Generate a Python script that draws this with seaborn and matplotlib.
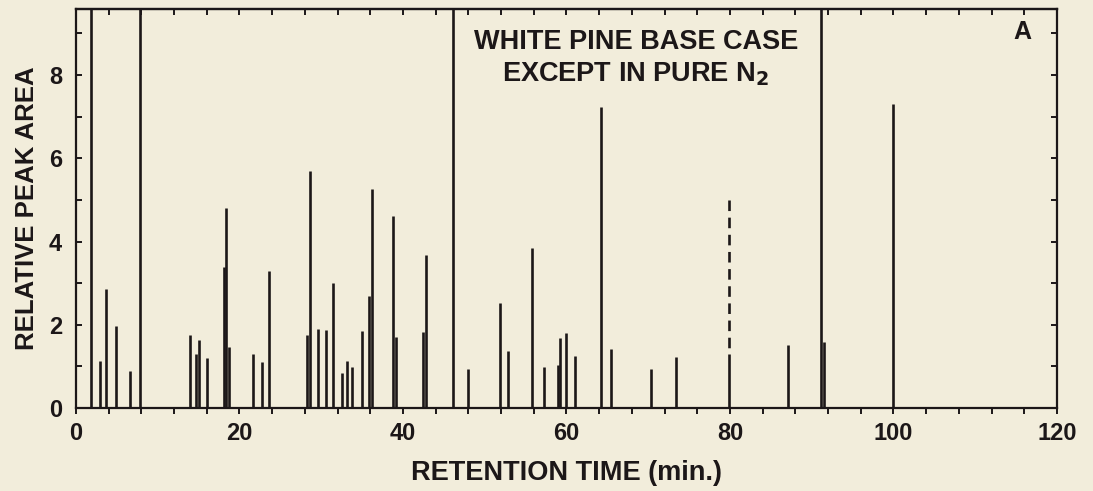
import numpy as np
import matplotlib
matplotlib.use("Agg")
import matplotlib.pyplot as plt
from matplotlib.ticker import MultipleLocator
import seaborn as sns

# Peak data (retention time in min, relative peak area)
peak_time = [3.0, 3.7, 4.9, 6.6, 14.0, 14.7, 15.0, 16.0, 18.1, 18.4, 18.7,
             21.6, 22.8, 23.6, 28.3, 28.6, 29.6, 30.6, 31.4, 32.6, 33.2, 33.8,
             35.0, 35.9, 36.2, 38.8, 39.1, 42.4, 42.8, 48.0, 51.9, 52.8, 55.8,
             57.3, 59.0, 59.2, 60.0, 61.0, 64.2, 65.4, 70.4, 73.4, 79.9, 87.1,
             91.5, 99.9]
peak_area = [1.14, 2.87, 1.98, 0.88, 1.75, 1.30, 1.63, 1.19, 3.40, 4.80, 1.47,
             1.31, 1.10, 3.29, 1.75, 5.70, 1.89, 1.88, 3.01, 0.83, 1.14, 0.98,
             1.84, 2.68, 5.26, 4.62, 1.70, 1.83, 3.68, 0.93, 2.53, 1.38, 3.85,
             0.98, 1.03, 1.69, 1.80, 1.26, 7.24, 1.41, 0.93, 1.22, 1.31, 1.51,
             1.59, 7.31]

# peaks that run off the top of the scale
offscale_time = [1.8, 7.8, 46.1, 91.1]

# dashed continuation of the peak near 80 min (drawn top-down)
dashed_time = [79.9]
dashed_top = [5.0]
dashed_bottom = [1.31]

x_ticks = [0, 20, 40, 60, 80, 100, 120]
y_ticks = [0, 2, 4, 6, 8]

bg = "#f2eddb"
ink = "#1c1718"

sns.set_theme(style="ticks")
plt.rcParams["font.family"] = ["Liberation Sans", "DejaVu Sans"]
plt.rcParams["font.weight"] = "bold"
plt.rcParams["mathtext.default"] = "bf"

fig = plt.figure(figsize=(10.93, 4.91), dpi=100, facecolor=bg)
ax = fig.add_axes([0.0695, 0.169, 0.8975, 0.812])
ax.set_facecolor(bg)

ax.set_xlim(0, 120)
ax.set_ylim(0, 9.58)

ax.vlines(peak_time, 0, peak_area, color=ink, linewidth=1.9)
ax.vlines(offscale_time, 0, ax.get_ylim()[1], color=ink, linewidth=1.9)
ax.vlines(dashed_time, dashed_top, dashed_bottom, color=ink, linewidth=1.9,
          linestyles=(0, (4, 2.5)))

ax.set_xticks(x_ticks)
ax.set_yticks(y_ticks)
ax.xaxis.set_minor_locator(MultipleLocator(4))
ax.yaxis.set_minor_locator(MultipleLocator(1))

for side in ["left", "right", "top", "bottom"]:
    ax.spines[side].set_linewidth(1.6)
    ax.spines[side].set_color(ink)

ax.tick_params(axis="both", which="both", color=ink, width=1.4, length=4,
               labelsize=17, labelcolor=ink)
ax.tick_params(axis="x", which="both", direction="out", top=False, pad=6)
ax.tick_params(axis="y", which="both", direction="in", right=True, pad=10)

ax.set_xlabel("RETENTION TIME (min.)", fontsize=19.5, fontweight="bold",
              color=ink, labelpad=11)
ax.set_ylabel("RELATIVE PEAK AREA", fontsize=18.5, fontweight="bold",
              color=ink, labelpad=7)

ax.text(68.5, 8.8, "WHITE PINE BASE CASE", ha="center", va="center",
        fontsize=19.5, fontweight="bold", color=ink)
ax.text(68.5, 8.02, "EXCEPT IN PURE N$_2$", ha="center", va="center",
        fontsize=19.5, fontweight="bold", color=ink)
ax.text(115.8, 9.04, "A", ha="center", va="center", fontsize=18,
        fontweight="bold", color=ink)

# top ticks point inward
ax2 = ax.secondary_xaxis("top")
ax2.xaxis.set_major_locator(MultipleLocator(20))
ax2.xaxis.set_minor_locator(MultipleLocator(4))
ax2.tick_params(axis="x", which="both", direction="in", length=4, width=1.4,
                color=ink, labeltop=False)
ax2.spines["top"].set_linewidth(1.6)

fig.savefig("out.png", dpi=100, facecolor=bg)
